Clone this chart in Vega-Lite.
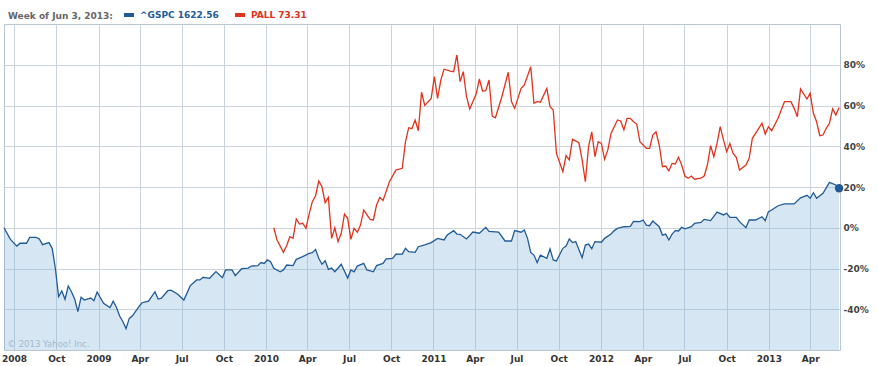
{
 "$schema": "https://vega.github.io/schema/vega-lite/v6.json",
 "width": 836,
 "height": 326,
 "autosize": "none",
 "padding": {"left": 4, "top": 24, "right": 38, "bottom": 16},
 "background": "white",
 "config": {"view": {"stroke": "#b9c6d1", "strokeWidth": 1}, "font": "DejaVu Sans"},
 "data": {"values": [
  {"d":"2008-06-09","s":"^GSPC","v":0},{"d":"2008-06-23","s":"^GSPC","v":-5.7},{"d":"2008-07-07","s":"^GSPC","v":-9},{"d":"2008-07-14","s":"^GSPC","v":-7.6},{"d":"2008-07-28","s":"^GSPC","v":-7.6},{"d":"2008-08-04","s":"^GSPC","v":-4.7},{"d":"2008-08-18","s":"^GSPC","v":-4.7},{"d":"2008-08-25","s":"^GSPC","v":-5.5},{"d":"2008-09-01","s":"^GSPC","v":-8.3},{"d":"2008-09-15","s":"^GSPC","v":-7.3},{"d":"2008-09-22","s":"^GSPC","v":-10.1},{"d":"2008-09-29","s":"^GSPC","v":-20},{"d":"2008-10-06","s":"^GSPC","v":-33.8},{"d":"2008-10-13","s":"^GSPC","v":-31},{"d":"2008-10-20","s":"^GSPC","v":-35.1},{"d":"2008-10-27","s":"^GSPC","v":-28.6},{"d":"2008-11-03","s":"^GSPC","v":-31.4},{"d":"2008-11-10","s":"^GSPC","v":-35},{"d":"2008-11-17","s":"^GSPC","v":-41.2},{"d":"2008-11-24","s":"^GSPC","v":-34.1},{"d":"2008-12-01","s":"^GSPC","v":-35.5},{"d":"2008-12-15","s":"^GSPC","v":-34.5},{"d":"2008-12-22","s":"^GSPC","v":-35.8},{"d":"2008-12-29","s":"^GSPC","v":-31.5},
  {"d":"2009-01-12","s":"^GSPC","v":-37.1},{"d":"2009-01-26","s":"^GSPC","v":-39.2},{"d":"2009-02-02","s":"^GSPC","v":-36},{"d":"2009-02-09","s":"^GSPC","v":-39},{"d":"2009-02-16","s":"^GSPC","v":-43.3},{"d":"2009-02-23","s":"^GSPC","v":-46},{"d":"2009-03-02","s":"^GSPC","v":-49.5},{"d":"2009-03-09","s":"^GSPC","v":-44.5},{"d":"2009-03-16","s":"^GSPC","v":-43.2},{"d":"2009-03-30","s":"^GSPC","v":-38.7},{"d":"2009-04-06","s":"^GSPC","v":-36.8},{"d":"2009-04-20","s":"^GSPC","v":-36},{"d":"2009-05-04","s":"^GSPC","v":-31.4},{"d":"2009-05-11","s":"^GSPC","v":-35},{"d":"2009-05-18","s":"^GSPC","v":-34.6},{"d":"2009-06-01","s":"^GSPC","v":-30.9},{"d":"2009-06-08","s":"^GSPC","v":-30.6},{"d":"2009-06-22","s":"^GSPC","v":-32.5},{"d":"2009-07-06","s":"^GSPC","v":-35.5},{"d":"2009-07-20","s":"^GSPC","v":-28.4},{"d":"2009-08-03","s":"^GSPC","v":-25.6},{"d":"2009-08-10","s":"^GSPC","v":-25.6},{"d":"2009-08-17","s":"^GSPC","v":-24.3},{"d":"2009-08-31","s":"^GSPC","v":-24.8},{"d":"2009-09-14","s":"^GSPC","v":-21.5},{"d":"2009-09-28","s":"^GSPC","v":-24.5},{"d":"2009-10-05","s":"^GSPC","v":-20.7},{"d":"2009-10-19","s":"^GSPC","v":-20.7},{"d":"2009-10-26","s":"^GSPC","v":-23.5},{"d":"2009-11-09","s":"^GSPC","v":-20.1},{"d":"2009-11-23","s":"^GSPC","v":-19.8},{"d":"2009-11-30","s":"^GSPC","v":-18.8},{"d":"2009-12-14","s":"^GSPC","v":-18.6},{"d":"2009-12-21","s":"^GSPC","v":-17.1},{"d":"2009-12-28","s":"^GSPC","v":-17.5},
  {"d":"2010-01-04","s":"^GSPC","v":-15.8},{"d":"2010-01-11","s":"^GSPC","v":-16.7},{"d":"2010-01-18","s":"^GSPC","v":-19.9},{"d":"2010-02-01","s":"^GSPC","v":-21.6},{"d":"2010-02-08","s":"^GSPC","v":-20.7},{"d":"2010-02-15","s":"^GSPC","v":-18.3},{"d":"2010-03-01","s":"^GSPC","v":-18.6},{"d":"2010-03-08","s":"^GSPC","v":-15.5},{"d":"2010-03-22","s":"^GSPC","v":-14.2},{"d":"2010-04-05","s":"^GSPC","v":-12.6},{"d":"2010-04-12","s":"^GSPC","v":-12.2},{"d":"2010-04-19","s":"^GSPC","v":-10.6},{"d":"2010-04-26","s":"^GSPC","v":-15},{"d":"2010-05-03","s":"^GSPC","v":-17.9},{"d":"2010-05-10","s":"^GSPC","v":-16.2},{"d":"2010-05-17","s":"^GSPC","v":-20.4},{"d":"2010-05-24","s":"^GSPC","v":-19.8},{"d":"2010-05-31","s":"^GSPC","v":-21.6},{"d":"2010-06-14","s":"^GSPC","v":-17.9},{"d":"2010-06-28","s":"^GSPC","v":-24.7},{"d":"2010-07-05","s":"^GSPC","v":-20.7},{"d":"2010-07-12","s":"^GSPC","v":-21.6},{"d":"2010-07-19","s":"^GSPC","v":-18.8},{"d":"2010-08-02","s":"^GSPC","v":-17.5},{"d":"2010-08-09","s":"^GSPC","v":-20.7},{"d":"2010-08-23","s":"^GSPC","v":-21.6},{"d":"2010-08-30","s":"^GSPC","v":-18.6},{"d":"2010-09-13","s":"^GSPC","v":-17.5},{"d":"2010-09-20","s":"^GSPC","v":-15.3},{"d":"2010-10-04","s":"^GSPC","v":-15},{"d":"2010-10-11","s":"^GSPC","v":-13},{"d":"2010-10-25","s":"^GSPC","v":-12.9},{"d":"2010-11-01","s":"^GSPC","v":-10.1},{"d":"2010-11-08","s":"^GSPC","v":-11.7},{"d":"2010-11-22","s":"^GSPC","v":-12.1},{"d":"2010-11-29","s":"^GSPC","v":-9.3},{"d":"2010-12-13","s":"^GSPC","v":-8.4},{"d":"2010-12-27","s":"^GSPC","v":-7.3},
  {"d":"2011-01-10","s":"^GSPC","v":-5.2},{"d":"2011-01-24","s":"^GSPC","v":-6},{"d":"2011-01-31","s":"^GSPC","v":-3.6},{"d":"2011-02-14","s":"^GSPC","v":-1.4},{"d":"2011-02-21","s":"^GSPC","v":-3.1},{"d":"2011-02-28","s":"^GSPC","v":-3.2},{"d":"2011-03-14","s":"^GSPC","v":-5.5},{"d":"2011-03-28","s":"^GSPC","v":-2.1},{"d":"2011-04-11","s":"^GSPC","v":-2.7},{"d":"2011-04-25","s":"^GSPC","v":0.2},{"d":"2011-05-02","s":"^GSPC","v":-1.8},{"d":"2011-05-23","s":"^GSPC","v":-2.1},{"d":"2011-06-06","s":"^GSPC","v":-6.5},{"d":"2011-06-20","s":"^GSPC","v":-6.5},{"d":"2011-06-27","s":"^GSPC","v":-1.4},{"d":"2011-07-11","s":"^GSPC","v":-2.2},{"d":"2011-07-18","s":"^GSPC","v":-1.1},{"d":"2011-07-25","s":"^GSPC","v":-5.2},{"d":"2011-08-01","s":"^GSPC","v":-12.1},{"d":"2011-08-08","s":"^GSPC","v":-13.4},{"d":"2011-08-15","s":"^GSPC","v":-17.1},{"d":"2011-08-22","s":"^GSPC","v":-13.4},{"d":"2011-09-05","s":"^GSPC","v":-15},{"d":"2011-09-12","s":"^GSPC","v":-10.4},{"d":"2011-09-19","s":"^GSPC","v":-15.8},{"d":"2011-09-26","s":"^GSPC","v":-16.3},{"d":"2011-10-10","s":"^GSPC","v":-10.1},{"d":"2011-10-17","s":"^GSPC","v":-9},{"d":"2011-10-24","s":"^GSPC","v":-5.5},{"d":"2011-10-31","s":"^GSPC","v":-7.3},{"d":"2011-11-07","s":"^GSPC","v":-6.8},{"d":"2011-11-21","s":"^GSPC","v":-14.7},{"d":"2011-11-28","s":"^GSPC","v":-8.5},{"d":"2011-12-05","s":"^GSPC","v":-8},{"d":"2011-12-12","s":"^GSPC","v":-10.3},{"d":"2011-12-19","s":"^GSPC","v":-6.8},
  {"d":"2012-01-02","s":"^GSPC","v":-7.1},{"d":"2012-01-09","s":"^GSPC","v":-5.2},{"d":"2012-01-23","s":"^GSPC","v":-3.1},{"d":"2012-01-30","s":"^GSPC","v":-1.4},{"d":"2012-02-06","s":"^GSPC","v":-0.3},{"d":"2012-02-20","s":"^GSPC","v":0.5},{"d":"2012-03-05","s":"^GSPC","v":0.7},{"d":"2012-03-12","s":"^GSPC","v":3.1},{"d":"2012-03-26","s":"^GSPC","v":3},{"d":"2012-04-02","s":"^GSPC","v":3.8},{"d":"2012-04-09","s":"^GSPC","v":1.3},{"d":"2012-04-16","s":"^GSPC","v":1},{"d":"2012-04-23","s":"^GSPC","v":3.3},{"d":"2012-05-07","s":"^GSPC","v":0.5},{"d":"2012-05-14","s":"^GSPC","v":-3.6},{"d":"2012-05-21","s":"^GSPC","v":-3.1},{"d":"2012-05-28","s":"^GSPC","v":-6},{"d":"2012-06-04","s":"^GSPC","v":-3.1},{"d":"2012-06-11","s":"^GSPC","v":-1.4},{"d":"2012-06-18","s":"^GSPC","v":-1.6},{"d":"2012-06-25","s":"^GSPC","v":0.2},{"d":"2012-07-02","s":"^GSPC","v":-0.5},{"d":"2012-07-16","s":"^GSPC","v":0.5},{"d":"2012-07-23","s":"^GSPC","v":2.1},{"d":"2012-08-06","s":"^GSPC","v":2.6},{"d":"2012-08-13","s":"^GSPC","v":4.1},{"d":"2012-08-27","s":"^GSPC","v":3.5},{"d":"2012-09-10","s":"^GSPC","v":7.7},{"d":"2012-09-24","s":"^GSPC","v":6.3},{"d":"2012-10-01","s":"^GSPC","v":7.1},{"d":"2012-10-08","s":"^GSPC","v":5.1},{"d":"2012-10-22","s":"^GSPC","v":5.1},{"d":"2012-10-29","s":"^GSPC","v":3},{"d":"2012-11-12","s":"^GSPC","v":0},{"d":"2012-11-19","s":"^GSPC","v":3.8},{"d":"2012-12-03","s":"^GSPC","v":3.8},{"d":"2012-12-17","s":"^GSPC","v":5.4},{"d":"2012-12-24","s":"^GSPC","v":3.5},{"d":"2012-12-31","s":"^GSPC","v":7.9},
  {"d":"2013-01-07","s":"^GSPC","v":8.7},{"d":"2013-01-21","s":"^GSPC","v":10.8},{"d":"2013-02-04","s":"^GSPC","v":11.7},{"d":"2013-02-25","s":"^GSPC","v":11.7},{"d":"2013-03-11","s":"^GSPC","v":14.7},{"d":"2013-03-18","s":"^GSPC","v":15.3},{"d":"2013-03-25","s":"^GSPC","v":15.9},{"d":"2013-04-01","s":"^GSPC","v":14.5},{"d":"2013-04-08","s":"^GSPC","v":17.2},{"d":"2013-04-15","s":"^GSPC","v":14.5},{"d":"2013-04-29","s":"^GSPC","v":16.9},{"d":"2013-05-13","s":"^GSPC","v":22.3},{"d":"2013-05-27","s":"^GSPC","v":21},{"d":"2013-06-03","s":"^GSPC","v":19.4},
  {"d":"2010-01-18","s":"PALL","v":0},{"d":"2010-01-25","s":"PALL","v":-6},{"d":"2010-02-08","s":"PALL","v":-12.1},{"d":"2010-02-15","s":"PALL","v":-8.8},{"d":"2010-02-22","s":"PALL","v":-4.4},{"d":"2010-03-01","s":"PALL","v":-5.2},{"d":"2010-03-08","s":"PALL","v":4.3},{"d":"2010-03-15","s":"PALL","v":1.8},{"d":"2010-03-22","s":"PALL","v":2.2},{"d":"2010-03-29","s":"PALL","v":-0.3},{"d":"2010-04-05","s":"PALL","v":6.7},{"d":"2010-04-12","s":"PALL","v":12.8},{"d":"2010-04-19","s":"PALL","v":15.7},{"d":"2010-04-26","s":"PALL","v":22.9},{"d":"2010-05-03","s":"PALL","v":20.1},{"d":"2010-05-10","s":"PALL","v":12.3},{"d":"2010-05-17","s":"PALL","v":14.9},{"d":"2010-05-24","s":"PALL","v":-5.2},{"d":"2010-05-31","s":"PALL","v":0},{"d":"2010-06-07","s":"PALL","v":-6.8},{"d":"2010-06-14","s":"PALL","v":-2.7},{"d":"2010-06-21","s":"PALL","v":6.7},{"d":"2010-06-28","s":"PALL","v":4.6},{"d":"2010-07-05","s":"PALL","v":-5.7},{"d":"2010-07-12","s":"PALL","v":-0.3},{"d":"2010-07-19","s":"PALL","v":-2.2},{"d":"2010-07-26","s":"PALL","v":1.3},{"d":"2010-08-02","s":"PALL","v":8.7},{"d":"2010-08-16","s":"PALL","v":4.1},{"d":"2010-08-23","s":"PALL","v":3.8},{"d":"2010-08-30","s":"PALL","v":11.2},{"d":"2010-09-06","s":"PALL","v":14.9},{"d":"2010-09-13","s":"PALL","v":13.3},{"d":"2010-09-27","s":"PALL","v":22.6},{"d":"2010-10-11","s":"PALL","v":28.3},{"d":"2010-10-25","s":"PALL","v":29.2},{"d":"2010-11-01","s":"PALL","v":42.2},{"d":"2010-11-08","s":"PALL","v":49.1},{"d":"2010-11-15","s":"PALL","v":48.6},{"d":"2010-11-22","s":"PALL","v":52.9},{"d":"2010-11-29","s":"PALL","v":47.6},{"d":"2010-12-06","s":"PALL","v":66.5},{"d":"2010-12-13","s":"PALL","v":60},{"d":"2010-12-27","s":"PALL","v":63.5},
  {"d":"2011-01-03","s":"PALL","v":74.2},{"d":"2011-01-10","s":"PALL","v":63.5},{"d":"2011-01-17","s":"PALL","v":72.5},{"d":"2011-01-24","s":"PALL","v":77.8},{"d":"2011-02-07","s":"PALL","v":76.9},{"d":"2011-02-14","s":"PALL","v":76.6},{"d":"2011-02-21","s":"PALL","v":84.8},{"d":"2011-02-28","s":"PALL","v":71.7},{"d":"2011-03-07","s":"PALL","v":76.6},{"d":"2011-03-14","s":"PALL","v":64.3},{"d":"2011-03-21","s":"PALL","v":58.3},{"d":"2011-04-04","s":"PALL","v":65.6},{"d":"2011-04-11","s":"PALL","v":73},{"d":"2011-04-18","s":"PALL","v":67.1},{"d":"2011-04-25","s":"PALL","v":67.3},{"d":"2011-05-02","s":"PALL","v":72.5},{"d":"2011-05-09","s":"PALL","v":54.8},{"d":"2011-05-16","s":"PALL","v":54},{"d":"2011-05-30","s":"PALL","v":64.3},{"d":"2011-06-13","s":"PALL","v":76.3},{"d":"2011-06-20","s":"PALL","v":61.9},{"d":"2011-06-27","s":"PALL","v":58.6},{"d":"2011-07-11","s":"PALL","v":68.4},{"d":"2011-07-18","s":"PALL","v":70.1},{"d":"2011-08-01","s":"PALL","v":79},{"d":"2011-08-08","s":"PALL","v":61.1},{"d":"2011-08-15","s":"PALL","v":61.9},{"d":"2011-08-22","s":"PALL","v":61.6},{"d":"2011-09-05","s":"PALL","v":68.4},{"d":"2011-09-12","s":"PALL","v":59.4},{"d":"2011-09-19","s":"PALL","v":57.8},{"d":"2011-09-26","s":"PALL","v":36.5},{"d":"2011-10-10","s":"PALL","v":27.5},{"d":"2011-10-17","s":"PALL","v":35.4},{"d":"2011-10-24","s":"PALL","v":33.3},{"d":"2011-10-31","s":"PALL","v":43.4},{"d":"2011-11-14","s":"PALL","v":41.7},{"d":"2011-11-21","s":"PALL","v":33.3},{"d":"2011-11-28","s":"PALL","v":22.6},{"d":"2011-12-05","s":"PALL","v":39.8},{"d":"2011-12-12","s":"PALL","v":47.1},{"d":"2011-12-19","s":"PALL","v":34.9},{"d":"2011-12-26","s":"PALL","v":42.2},
  {"d":"2012-01-02","s":"PALL","v":41.4},{"d":"2012-01-09","s":"PALL","v":33.6},{"d":"2012-01-16","s":"PALL","v":38.2},{"d":"2012-01-23","s":"PALL","v":46.3},{"d":"2012-02-06","s":"PALL","v":52.9},{"d":"2012-02-13","s":"PALL","v":52.4},{"d":"2012-02-20","s":"PALL","v":48},{"d":"2012-02-27","s":"PALL","v":53.7},{"d":"2012-03-05","s":"PALL","v":53.7},{"d":"2012-03-12","s":"PALL","v":52},{"d":"2012-03-19","s":"PALL","v":50.9},{"d":"2012-03-26","s":"PALL","v":42.2},{"d":"2012-04-02","s":"PALL","v":40.6},{"d":"2012-04-09","s":"PALL","v":39},{"d":"2012-04-16","s":"PALL","v":39},{"d":"2012-04-23","s":"PALL","v":45.5},{"d":"2012-04-30","s":"PALL","v":47.1},{"d":"2012-05-07","s":"PALL","v":40.6},{"d":"2012-05-14","s":"PALL","v":30},{"d":"2012-05-21","s":"PALL","v":30.3},{"d":"2012-05-28","s":"PALL","v":27.9},{"d":"2012-06-04","s":"PALL","v":31.6},{"d":"2012-06-11","s":"PALL","v":31.3},{"d":"2012-06-18","s":"PALL","v":34.6},{"d":"2012-06-25","s":"PALL","v":30.8},{"d":"2012-07-02","s":"PALL","v":25.4},{"d":"2012-07-09","s":"PALL","v":24.3},{"d":"2012-07-16","s":"PALL","v":25.4},{"d":"2012-07-23","s":"PALL","v":23.8},{"d":"2012-08-06","s":"PALL","v":24.3},{"d":"2012-08-13","s":"PALL","v":25.4},{"d":"2012-08-20","s":"PALL","v":30.8},{"d":"2012-08-27","s":"PALL","v":40.3},{"d":"2012-09-03","s":"PALL","v":34.9},{"d":"2012-09-10","s":"PALL","v":41.4},{"d":"2012-09-17","s":"PALL","v":49.6},{"d":"2012-09-24","s":"PALL","v":43.1},{"d":"2012-10-01","s":"PALL","v":37.3},{"d":"2012-10-08","s":"PALL","v":41.4},{"d":"2012-10-15","s":"PALL","v":36.5},{"d":"2012-10-22","s":"PALL","v":34.6},{"d":"2012-10-29","s":"PALL","v":28.3},{"d":"2012-11-12","s":"PALL","v":30.8},{"d":"2012-11-19","s":"PALL","v":34.1},{"d":"2012-11-26","s":"PALL","v":43.9},{"d":"2012-12-10","s":"PALL","v":48.8},{"d":"2012-12-17","s":"PALL","v":51.3},{"d":"2012-12-24","s":"PALL","v":46},{"d":"2012-12-31","s":"PALL","v":49.6},
  {"d":"2013-01-07","s":"PALL","v":47.6},{"d":"2013-01-21","s":"PALL","v":53.7},{"d":"2013-02-04","s":"PALL","v":61.9},{"d":"2013-02-18","s":"PALL","v":61.9},{"d":"2013-02-25","s":"PALL","v":58.6},{"d":"2013-03-04","s":"PALL","v":54.5},{"d":"2013-03-11","s":"PALL","v":68.1},{"d":"2013-03-25","s":"PALL","v":63.2},{"d":"2013-04-01","s":"PALL","v":66},{"d":"2013-04-08","s":"PALL","v":56.2},{"d":"2013-04-15","s":"PALL","v":52},{"d":"2013-04-22","s":"PALL","v":45.2},{"d":"2013-04-29","s":"PALL","v":45.5},{"d":"2013-05-06","s":"PALL","v":48.8},{"d":"2013-05-13","s":"PALL","v":51.3},{"d":"2013-05-20","s":"PALL","v":58.3},{"d":"2013-05-27","s":"PALL","v":55.3},{"d":"2013-06-03","s":"PALL","v":59}
 ]},
 "encoding": {
  "x": {
   "field": "d", "type": "temporal",
   "scale": {"type": "utc", "domain": [{"year": 2008, "month": 6, "date": 9, "utc": true}, {"year": 2013, "month": 6, "date": 5, "utc": true}]},
   "axis": {
    "values": [
     {"year": 2008, "month": 7, "date": 1, "utc": true}, {"year": 2008, "month": 10, "date": 1, "utc": true},
     {"year": 2009, "month": 1, "date": 1, "utc": true}, {"year": 2009, "month": 4, "date": 1, "utc": true}, {"year": 2009, "month": 7, "date": 1, "utc": true}, {"year": 2009, "month": 10, "date": 1, "utc": true},
     {"year": 2010, "month": 1, "date": 1, "utc": true}, {"year": 2010, "month": 4, "date": 1, "utc": true}, {"year": 2010, "month": 7, "date": 1, "utc": true}, {"year": 2010, "month": 10, "date": 1, "utc": true},
     {"year": 2011, "month": 1, "date": 1, "utc": true}, {"year": 2011, "month": 4, "date": 1, "utc": true}, {"year": 2011, "month": 7, "date": 1, "utc": true}, {"year": 2011, "month": 10, "date": 1, "utc": true},
     {"year": 2012, "month": 1, "date": 1, "utc": true}, {"year": 2012, "month": 4, "date": 1, "utc": true}, {"year": 2012, "month": 7, "date": 1, "utc": true}, {"year": 2012, "month": 10, "date": 1, "utc": true},
     {"year": 2013, "month": 1, "date": 1, "utc": true}, {"year": 2013, "month": 4, "date": 1, "utc": true}
    ],
    "labelExpr": "(utcmonth(datum.value) == 0 || (utcyear(datum.value) == 2008 && utcmonth(datum.value) == 6)) ? utcFormat(datum.value, '%Y') : utcFormat(datum.value, '%b')",
    "labelFont": "DejaVu Sans", "labelFontSize": 9, "labelFontWeight": "bold", "labelColor": "#333333",
    "labelPadding": 4, "labelFlush": false, "labelOverlap": false,
    "ticks": false, "domain": false,
    "grid": true, "gridColor": "#c9d4de", "gridWidth": 1,
    "title": "© 2013 Yahoo! Inc.", "titleX": 3, "titleY": -4, "titleAlign": "left", "titleAnchor": "start", "titleBaseline": "alphabetic",
    "titleFont": "DejaVu Sans", "titleFontWeight": "normal", "titleFontSize": 8.5, "titleColor": "#b3c0ca"
   }
  },
  "y": {
   "field": "v", "type": "quantitative",
   "scale": {"domain": [-60, 100], "nice": false, "zero": false},
   "axis": {
    "orient": "right", "values": [-40, -20, 0, 20, 40, 60, 80],
    "labelExpr": "datum.value + '%'",
    "labelFont": "DejaVu Sans", "labelFontSize": 9, "labelFontWeight": "bold", "labelColor": "#444444",
    "labelPadding": 3, "ticks": false, "domain": false,
    "grid": true, "gridColor": "#c9d4de", "gridWidth": 1, "title": null
   }
  }
 },
 "layer": [
  {
   "transform": [{"filter": "datum.s == '^GSPC'"}],
   "mark": {"type": "area", "fill": "#7fb0d8", "fillOpacity": 0.32},
   "encoding": {"y2": {"datum": -60}}
  },
  {
   "mark": {"type": "line", "strokeWidth": 1.3},
   "encoding": {
    "color": {
     "field": "s", "type": "nominal",
     "scale": {"domain": ["^GSPC", "PALL"], "range": ["#215b97", "#e2321c"]},
     "legend": {
      "title": "Week of Jun 3, 2013:", "orient": "none", "legendX": 4, "legendY": -16,
      "direction": "horizontal", "titleOrient": "left",
      "titleFont": "DejaVu Sans", "titleFontSize": 9, "titleFontWeight": "bold", "titleColor": "#666666", "titlePadding": 9,
      "labelFont": "DejaVu Sans", "labelFontSize": 9, "labelFontWeight": "bold",
      "labelColor": {"expr": "datum.value == 'PALL' ? '#e2321c' : '#215b97'"},
      "labelExpr": "datum.value == 'PALL' ? 'PALL 73.31' : '^GSPC 1622.56'",
      "symbolType": "stroke", "symbolSize": 100, "symbolStrokeWidth": 4,
      "labelOffset": 4, "columnPadding": 8, "padding": 0
     }
    }
   }
  },
  {
   "transform": [{"filter": "datum.s == '^GSPC' && utcyear(datum.d) == 2013 && utcmonth(datum.d) == 5 && utcdate(datum.d) == 3"}],
   "mark": {"type": "circle", "size": 70, "color": "#215b97", "opacity": 1}
  }
 ]
}
